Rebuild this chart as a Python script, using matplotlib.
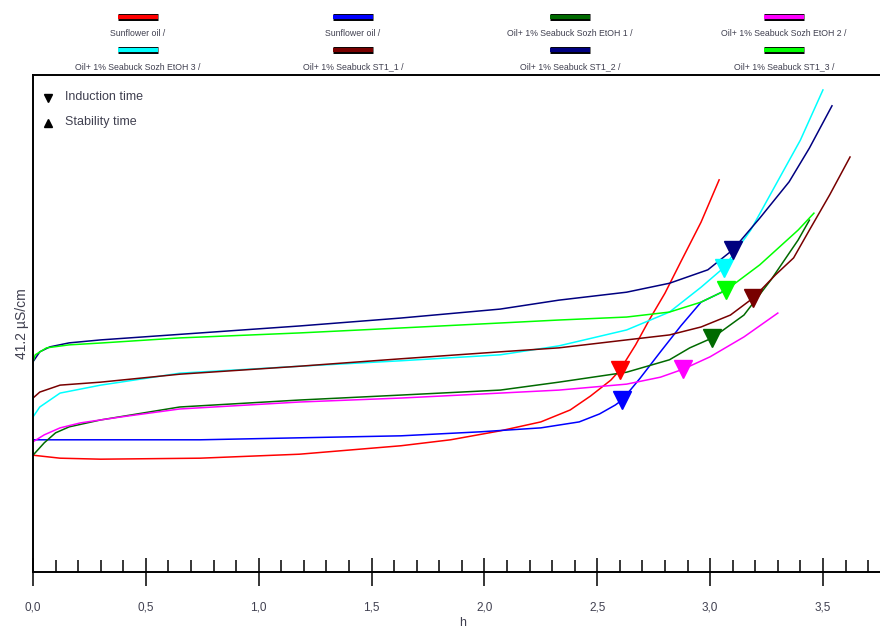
import matplotlib
matplotlib.use("Agg")
import matplotlib.pyplot as plt
from matplotlib.lines import Line2D
from matplotlib.ticker import MultipleLocator, FuncFormatter
import matplotlib.patheffects as pe

plt.rcParams['font.family'] = ['Liberation Sans', 'DejaVu Sans']

# time (h) and conductivity readings for each sample
red_h = [0, 0.12, 0.30, 0.74, 1.18, 1.63, 1.85, 2.07, 2.25, 2.38, 2.47, 2.56, 2.60, 2.67, 2.73, 2.80, 2.87, 2.96, 3.04]
red_y = [23.5, 22.9, 22.7, 22.9, 23.7, 25.4, 26.6, 28.4, 30.2, 32.6, 35.4, 38.6, 40.6, 45.7, 50.7, 56.1, 62.4, 70.4, 78.9]

blue_h = [0, 0.30, 0.74, 1.18, 1.63, 1.98, 2.25, 2.42, 2.51, 2.58, 2.61, 2.69, 2.78, 2.87, 2.96, 3.07]
blue_y = [26.6, 26.6, 26.6, 27.0, 27.4, 28.2, 29.0, 30.2, 31.8, 33.6, 34.6, 39.0, 44.3, 49.5, 54.3, 56.7]

dgreen_h = [0, 0.05, 0.10, 0.16, 0.30, 0.65, 1.18, 1.63, 2.07, 2.33, 2.63, 2.82, 2.91, 3.01, 3.15, 3.27, 3.39, 3.44]
dgreen_y = [23.5, 26.0, 28.0, 29.2, 30.6, 33.2, 34.6, 35.6, 36.6, 38.2, 40.2, 42.7, 45.1, 47.1, 51.7, 58.8, 66.8, 70.8]

magenta_h = [0, 0.05, 0.12, 0.21, 0.39, 0.65, 1.18, 1.63, 2.07, 2.33, 2.63, 2.78, 2.88, 3.00, 3.15, 3.30]
magenta_y = [26.2, 27.6, 29.0, 30.0, 31.2, 32.8, 34.2, 35.0, 36.0, 36.6, 37.8, 39.2, 40.8, 43.3, 47.3, 52.1]

cyan_h = [0, 0.03, 0.12, 0.30, 0.65, 1.18, 1.63, 2.07, 2.33, 2.63, 2.82, 2.96, 3.06, 3.18, 3.31, 3.40, 3.50]
cyan_y = [31.2, 33.2, 36.0, 37.6, 40.0, 41.4, 42.5, 43.7, 45.5, 48.7, 52.3, 57.3, 61.2, 68.8, 79.5, 86.9, 97.0]

maroon_h = [0, 0.03, 0.12, 0.30, 0.65, 1.18, 1.63, 2.07, 2.33, 2.63, 2.82, 2.96, 3.09, 3.19, 3.29, 3.37, 3.44, 3.53, 3.62]
maroon_y = [35.0, 36.2, 37.6, 38.2, 39.8, 41.4, 42.9, 44.3, 45.1, 46.7, 47.7, 49.3, 51.7, 55.1, 59.8, 63.2, 68.8, 75.9, 83.5]

navy_h = [0, 0.03, 0.075, 0.16, 0.30, 0.74, 1.18, 1.63, 2.07, 2.33, 2.63, 2.82, 2.99, 3.10, 3.22, 3.35, 3.44, 3.54]
navy_y = [42.3, 44.3, 45.3, 46.1, 46.7, 48.1, 49.5, 51.1, 52.9, 54.7, 56.3, 58.1, 60.8, 64.8, 71.2, 78.5, 85.3, 93.8]

lime_h = [0, 0.01, 0.06, 0.16, 0.31, 0.65, 1.18, 1.63, 2.07, 2.33, 2.63, 2.82, 2.96, 3.07, 3.22, 3.39, 3.46]
lime_y = [42.3, 43.7, 45.1, 45.7, 46.1, 47.1, 48.1, 49.1, 50.1, 50.7, 51.3, 52.3, 54.3, 56.7, 61.8, 68.8, 72.2]

labels = ["Sunflower oil /", "Sunflower oil /",
          "Oil+ 1% Seabuck Sozh EtOH 1 /", "Oil+ 1% Seabuck Sozh EtOH 2 /",
          "Oil+ 1% Seabuck Sozh EtOH 3 /", "Oil+ 1% Seabuck ST1_1 /",
          "Oil+ 1% Seabuck ST1_2 /", "Oil+ 1% Seabuck ST1_3 /"]
colors = ['#ff0000', '#0000ff', '#006a00', '#ff00ff',
          '#00ffff', '#780000', '#000080', '#00ff00']

# induction time points (h, value)
induction_h = [2.60, 2.61, 3.01, 2.88, 3.06, 3.19, 3.10, 3.07]
induction_y = [40.6, 34.6, 47.1, 40.8, 61.2, 55.1, 64.8, 56.7]

series = [(red_h, red_y), (blue_h, blue_y), (dgreen_h, dgreen_y), (magenta_h, magenta_y),
          (cyan_h, cyan_y), (maroon_h, maroon_y), (navy_h, navy_y), (lime_h, lime_y)]

fig = plt.figure(figsize=(8.8, 6.3), dpi=100)
ax = fig.add_axes([33 / 880, 58 / 630, 1 - 33 / 880, 497 / 630])

for (hh, yy), c in zip(series, colors):
    ax.plot(hh, yy, color=c, lw=1.1, zorder=2)
for hx, hy, c in zip(induction_h, induction_y, colors):
    ax.plot(hx, hy, marker='v', ms=13, color=c, mec=c, ls='none', zorder=3)

ax.set_xlim(0, 847 / 225.7)
ax.set_ylim(0, 100)
ax.spines['right'].set_visible(False)
for s in ['left', 'top', 'bottom']:
    ax.spines[s].set_linewidth(1.4)
ax.set_yticks([])
ax.xaxis.set_major_locator(MultipleLocator(0.5))
ax.xaxis.set_minor_locator(MultipleLocator(0.1))
ax.xaxis.set_major_formatter(FuncFormatter(lambda v, p: f"{v:.1f}".replace('.', ',')))
ax.tick_params(axis='x', which='major', direction='inout', length=20, width=1.1,
               labelsize=8.5, labelcolor='#404050', pad=11)
ax.tick_params(axis='x', which='minor', direction='in', length=8.5, width=1.1)

ax.set_ylabel("41.2 µS/cm", fontsize=10, color='#404050', labelpad=3)
fig.text(463 / 880, 1 / 630, "h", fontsize=9, color='#404050', ha='center', va='bottom')

# inner marker legend
ax.plot([0.067], [95.3], marker='v', color='black', ms=6, ls='none')
ax.plot([0.067], [90.3], marker='^', color='black', ms=6, ls='none')
ax.text(0.14, 95.5, "Induction time", fontsize=9, color='#404050', va='center')
ax.text(0.14, 90.5, "Stability time", fontsize=9, color='#404050', va='center')

# legend at top, two rows of four
col_x = [138, 353, 570, 784]
for i, (lab, c) in enumerate(zip(labels, colors)):
    cx = col_x[i % 4]
    r = i // 4
    by = 17 + r * 33
    ty = 34 + r * 33
    ln = Line2D([(cx - 20) / 880, (cx + 20) / 880], [1 - by / 630, 1 - by / 630],
                transform=fig.transFigure, color=c, lw=3, solid_capstyle='butt',
                path_effects=[pe.Stroke(linewidth=5, foreground='black'), pe.Normal()])
    fig.add_artist(ln)
    fig.text(cx / 880, 1 - ty / 630, lab, fontsize=6.3, color='#404050',
             ha='center', va='center')

fig.savefig("out.png", dpi=100)
